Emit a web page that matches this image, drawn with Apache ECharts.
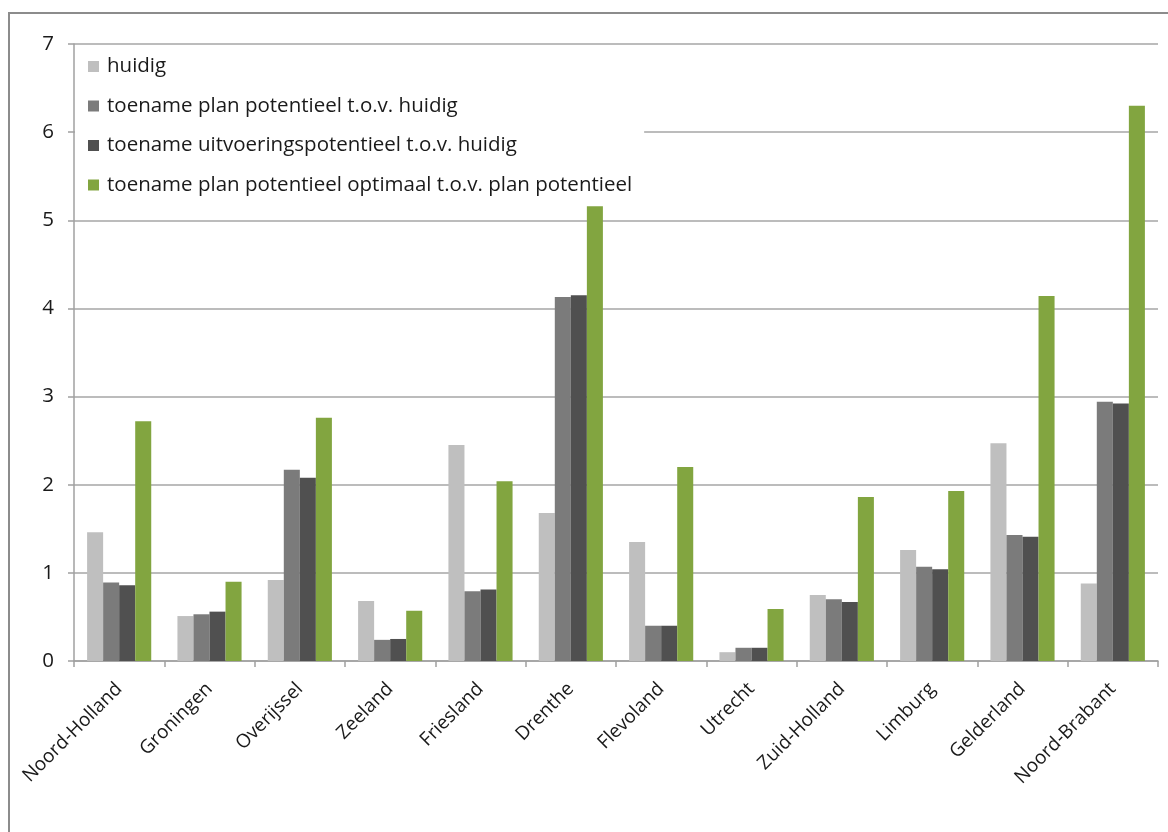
<!DOCTYPE html>
<html>
<head>
<meta charset="utf-8">
<script src="https://cdn.jsdelivr.net/npm/echarts@6/dist/echarts.min.js"></script>
<style>
  html, body { margin: 0; padding: 0; background: #fff; overflow: hidden; }
  #chart { position: absolute; left: 0; top: 0; width: 1168px; height: 832px; }
  #frame { position: absolute; left: 8px; top: 12px; width: 1300px; height: 1000px;
           border: 2px solid #8c8c8c; pointer-events: none; }
</style>
</head>
<body>
<div id="chart"></div>
<div id="frame"></div>
<script>
// Provinces along the x axis
const provinces = ['Noord-Holland', 'Groningen', 'Overijssel', 'Zeeland', 'Friesland', 'Drenthe',
  'Flevoland', 'Utrecht', 'Zuid-Holland', 'Limburg', 'Gelderland', 'Noord-Brabant'];

// Series names
const seriesNames = [
  'huidig',
  'toename plan potentieel t.o.v. huidig',
  'toename uitvoeringspotentieel t.o.v. huidig',
  'toename plan potentieel optimaal t.o.v. plan potentieel'
];

// Values per province
const huidig      = [1.46, 0.51, 0.92, 0.68, 2.45, 1.68, 1.35, 0.10, 0.75, 1.26, 2.47, 0.88];
const planPot     = [0.89, 0.53, 2.17, 0.24, 0.79, 4.13, 0.40, 0.15, 0.70, 1.07, 1.43, 2.94];
const uitvPot     = [0.86, 0.56, 2.08, 0.25, 0.81, 4.15, 0.40, 0.15, 0.67, 1.04, 1.41, 2.92];
const optimaalPot = [2.72, 0.90, 2.76, 0.57, 2.04, 5.16, 2.20, 0.59, 1.86, 1.93, 4.14, 6.30];

const colors = ['#bfbfbf', '#7b7b7b', '#505050', '#82a540'];
const values = [huidig, planPot, uitvPot, optimaalPot];

const font = '"Open Sans", "Noto Sans", sans-serif';
const chart = echarts.init(document.getElementById('chart'), null, { renderer: 'canvas' });

chart.setOption({
  animation: false,
  backgroundColor: 'transparent',
  textStyle: { fontFamily: font },
  grid: { left: 74, right: 10, top: 44, bottom: 171, containLabel: false },
  legend: {
    orient: 'vertical',
    left: 75,
    top: 47,
    padding: [9, 12, 9, 13],
    backgroundColor: '#ffffff',
    itemWidth: 11,
    itemHeight: 11,
    itemGap: 18.5,
    icon: 'rect',
    textStyle: { fontFamily: font, fontSize: 20.5, color: '#1a1a1a', lineHeight: 20, padding: [0, 0, 0, 3] },
    data: seriesNames
  },
  xAxis: {
    type: 'category',
    data: provinces,
    axisLine: { lineStyle: { color: '#a0a0a0', width: 1.5 } },
    axisTick: { show: true, length: 6, lineStyle: { color: '#a0a0a0', width: 1.5 } },
    axisLabel: { interval: 0, rotate: 45, margin: 25, fontSize: 19, color: '#1a1a1a', fontFamily: font },
    splitLine: { show: false }
  },
  yAxis: {
    type: 'value',
    min: 0, max: 7, interval: 1,
    axisLine: { show: true, lineStyle: { color: '#a0a0a0', width: 1.5 } },
    axisTick: { show: true, length: 6, lineStyle: { color: '#a0a0a0', width: 1.5 } },
    axisLabel: { fontSize: 20.5, color: '#1a1a1a', margin: 20, fontFamily: font },
    splitLine: { show: true, lineStyle: { color: '#a6a6a6', width: 1.5 } }
  },
  series: seriesNames.map((name, i) => ({
    name,
    type: 'bar',
    data: values[i],
    barGap: '0%',
    barCategoryGap: '29%',
    itemStyle: { color: colors[i] },
    z: 2
  }))
});
</script>
</body>
</html>
